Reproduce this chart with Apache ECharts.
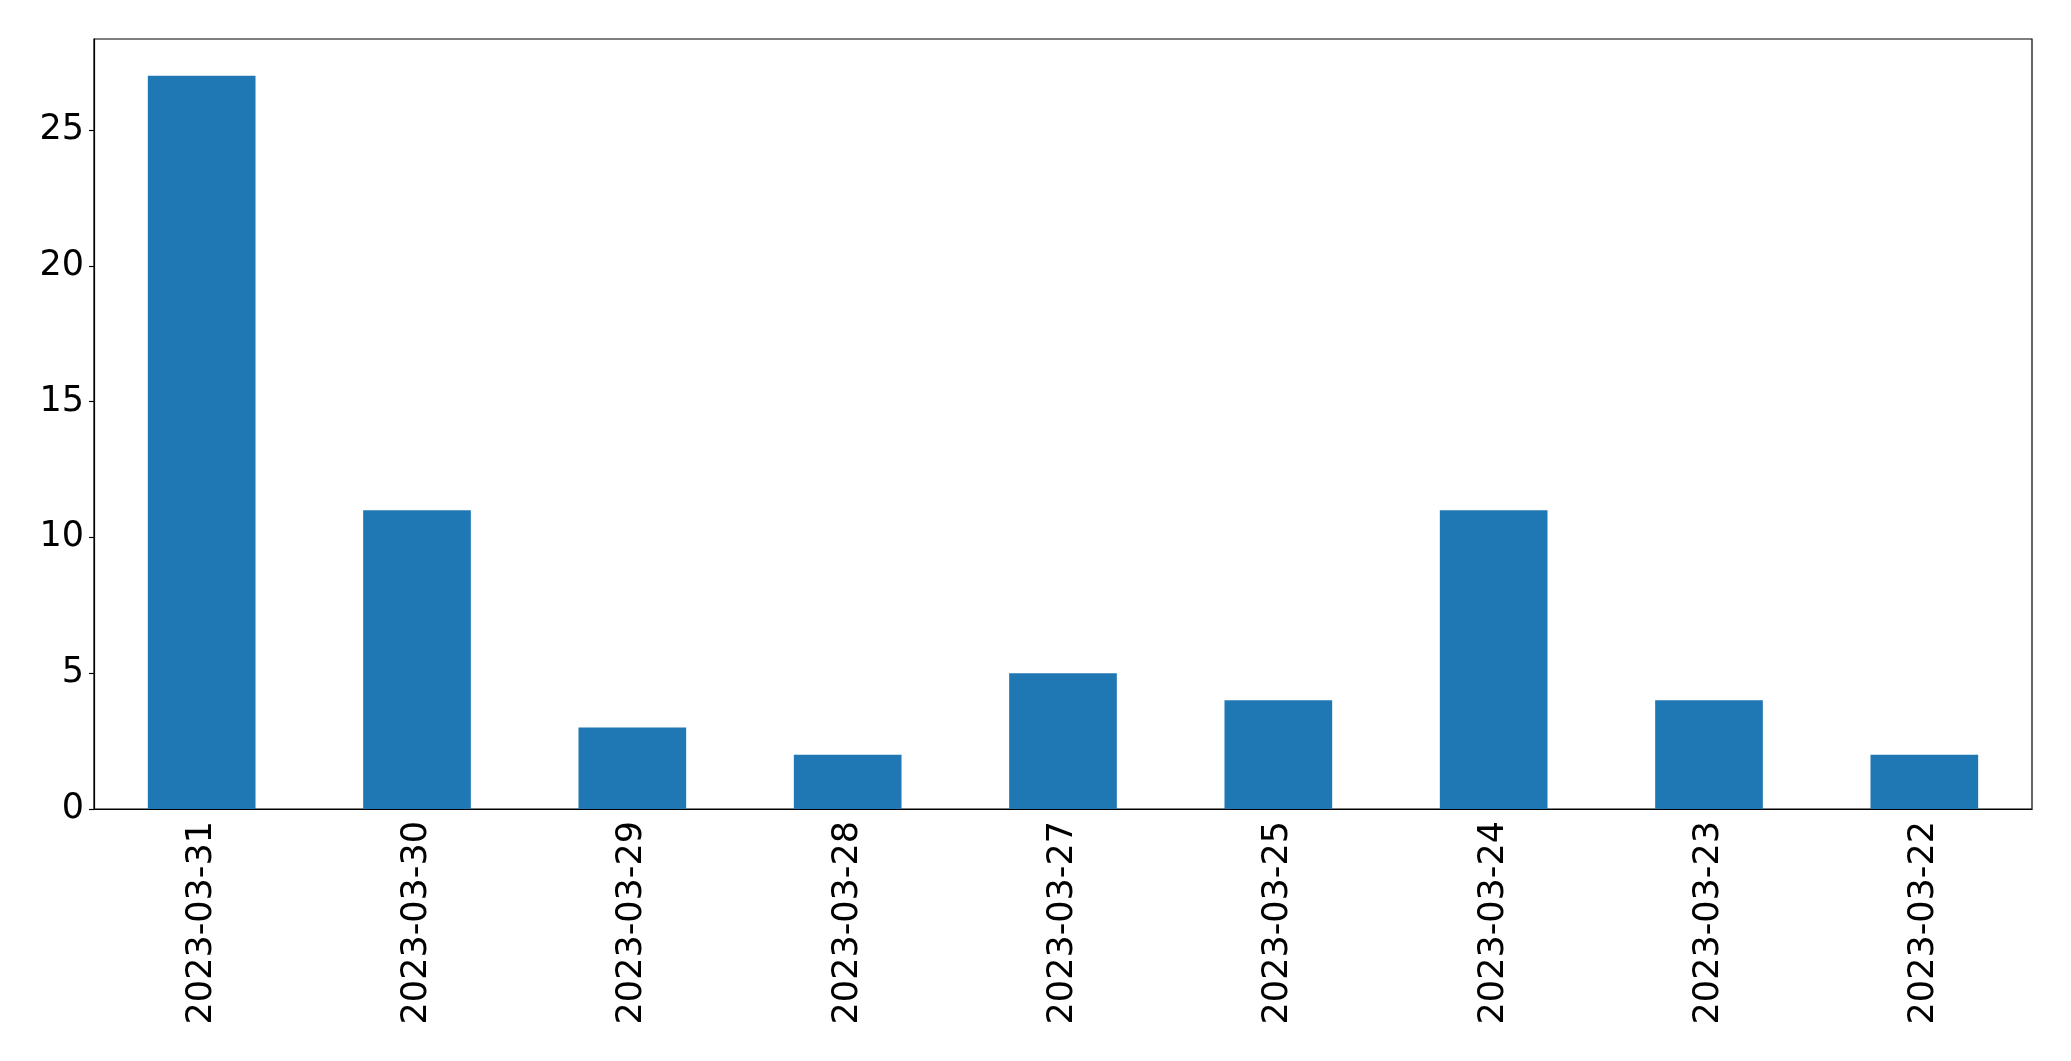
<!DOCTYPE html>
<html>
<head>
<meta charset="utf-8">
<style>
  html, body { margin: 0; padding: 0; background: #fff; }
  #chart { width: 2071px; height: 1061px; }
</style>
<script src="https://cdn.jsdelivr.net/npm/echarts@6/dist/echarts.min.js"></script>
</head>
<body>
<div id="chart"></div>
<script>
// data
const dates = ["2023-03-31", "2023-03-30", "2023-03-29", "2023-03-28", "2023-03-27",
               "2023-03-25", "2023-03-24", "2023-03-23", "2023-03-22"];
const counts = [27, 11, 3, 2, 5, 4, 11, 4, 2];

const chart = echarts.init(document.getElementById("chart"));
const font = "DejaVu Sans";

chart.setOption({
  animation: false,
  backgroundColor: "#fff",
  grid: {
    left: 94, right: 39, top: 39, bottom: 252,
    show: true, borderColor: "#000", borderWidth: 1.2, backgroundColor: "transparent"
  },
  xAxis: {
    type: "category",
    data: dates,
    axisLine: { lineStyle: { color: "#000", width: 1.2 } },
    axisTick: { alignWithLabel: true, length: 5, lineStyle: { color: "#000", width: 1.2 } },
    axisLabel: { rotate: 90, margin: 12, color: "#000", fontFamily: font, fontSize: 35 }
  },
  yAxis: {
    type: "value",
    min: 0,
    max: 28.35,
    interval: 5,
    splitLine: { show: false },
    axisLine: { show: true, lineStyle: { color: "#000", width: 1.2 } },
    axisTick: { show: true, length: 5, lineStyle: { color: "#000", width: 1.2 } },
    axisLabel: { showMaxLabel: false, margin: 10, color: "#000", fontFamily: font, fontSize: 35 }
  },
  series: [{
    type: "bar",
    data: counts,
    barWidth: "50%",
    itemStyle: { color: "#1f77b4" }
  }]
});
</script>
</body>
</html>
